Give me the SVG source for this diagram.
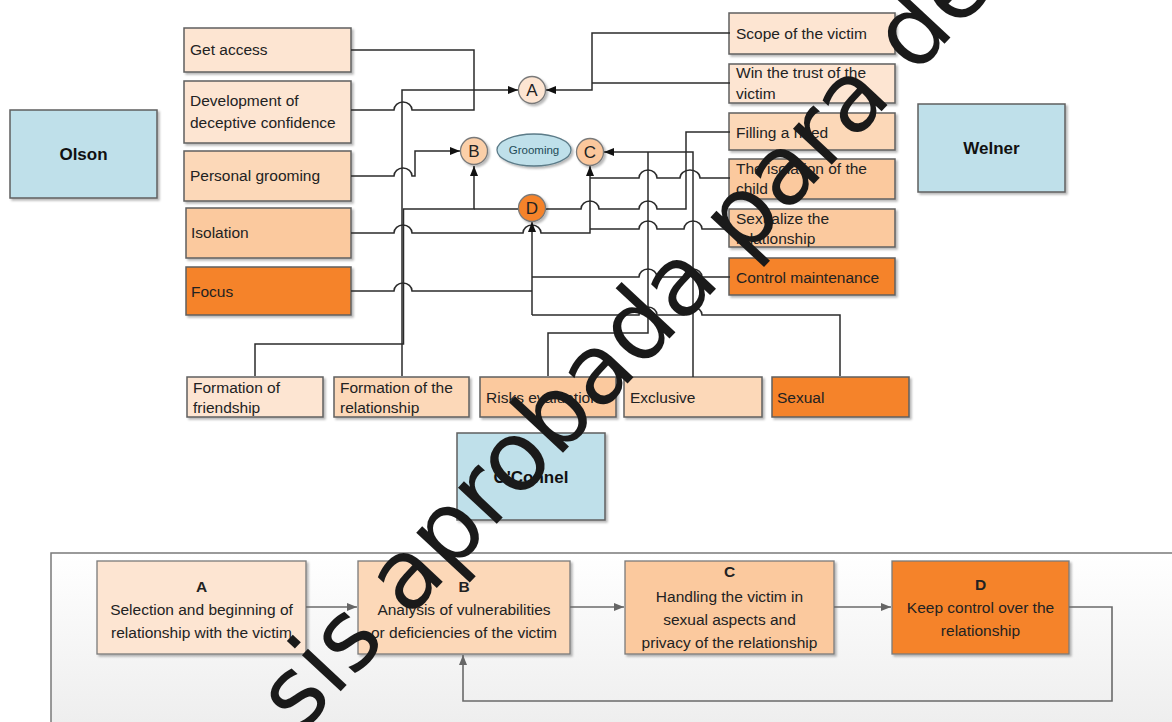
<svg xmlns="http://www.w3.org/2000/svg" width="1172" height="722" viewBox="0 0 1172 722">
  <defs>
    <filter id="shadow" x="-10%" y="-10%" width="125%" height="130%">
      <feDropShadow dx="2" dy="2" stdDeviation="1.2" flood-color="#000" flood-opacity="0.28"/>
    </filter>
    <linearGradient id="panelFill" x1="0" y1="0" x2="0" y2="1">
      <stop offset="0" stop-color="#ffffff"/>
      <stop offset="1" stop-color="#ebebeb"/>
    </linearGradient>
    <marker id="arrow" viewBox="0 0 10 8" refX="10" refY="4" markerWidth="10" markerHeight="8" markerUnits="userSpaceOnUse" orient="auto">
      <path d="M0,0 L10,4 L0,8 z" fill="#111"/>
    </marker>
    <marker id="arrowGray" viewBox="0 0 10 8" refX="10" refY="4" markerWidth="10" markerHeight="8" markerUnits="userSpaceOnUse" orient="auto">
      <path d="M0,0 L10,4 L0,8 z" fill="#666"/>
    </marker>
  </defs>
  <style>
    .box { stroke: #5f5f5f; stroke-width: 1.5; filter: url(#shadow); }
    .p1 { fill: #fde5d2; }
    .p2 { fill: #fcd8b8; }
    .p3 { fill: #fbc99e; }
    .or { fill: #f5832a; }
    .author { fill: #bfe0ea; }
    .t { font-family: "Liberation Sans", Arial, sans-serif; font-size: 15.5px; fill: #222; }
    .tc { font-family: "Liberation Sans", Arial, sans-serif; font-size: 15.5px; fill: #222; text-anchor: middle; }
    .tb { font-weight: bold; }
    .name { font-family: "Liberation Sans", Arial, sans-serif; font-size: 17px; font-weight: bold; fill: #111; text-anchor: middle; }
    .stage { stroke: #7a7a7a; stroke-width: 1.3; filter: url(#shadow); }
    .letter { font-family: "Liberation Sans", Arial, sans-serif; font-size: 17px; fill: #222; text-anchor: middle; }
    .wire { fill: none; stroke: #2b2b2b; stroke-width: 1.5; }
    .flow { fill: none; stroke: #6a6a6a; stroke-width: 1.6; }
    .mark { font-family: "DejaVu Sans", sans-serif; font-size: 97px; fill: #1a1a1a; }
  </style>

  <rect width="1172" height="722" fill="#ffffff"/>

  <!-- authors -->
  <g id="olson"><rect class="box author" x="10" y="110" width="147" height="88"/><text class="name" x="83.5" y="160">Olson</text></g>
  <g id="welner"><rect class="box author" x="918" y="104" width="147" height="88"/><text class="name" x="991.5" y="154">Welner</text></g>
  <g id="oconnel"><rect class="box author" x="457" y="433" width="148" height="87"/><text class="name" x="531" y="483">O'Connel</text></g>

  <!-- Olson stages -->
  <g id="get-access"><rect class="box p1" x="184" y="28" width="167" height="44"/><text class="t" x="190" y="55">Get access</text></g>
  <g id="deceptive-confidence"><rect class="box p1" x="184" y="81" width="167" height="62"/><text class="t" x="190" y="106">Development of</text><text class="t" x="190" y="128">deceptive confidence</text></g>
  <g id="personal-grooming"><rect class="box p2" x="184" y="151" width="167" height="50"/><text class="t" x="190" y="181">Personal grooming</text></g>
  <g id="isolation"><rect class="box p3" x="186" y="208" width="165" height="50"/><text class="t" x="191" y="238">Isolation</text></g>
  <g id="focus"><rect class="box or" x="186" y="267" width="165" height="48"/><text class="t" x="191" y="297">Focus</text></g>

  <!-- Welner stages -->
  <g id="scope"><rect class="box p1" x="729" y="13" width="166" height="41"/><text class="t" x="736" y="39">Scope of the victim</text></g>
  <g id="win-trust"><rect class="box p1" x="729" y="64" width="166" height="39"/><text class="t" x="736" y="78">Win the trust of the</text><text class="t" x="736" y="99">victim</text></g>
  <g id="filling-need"><rect class="box p2" x="729" y="113" width="166" height="37"/><text class="t" x="736" y="138">Filling a need</text></g>
  <g id="isolation-child"><rect class="box p3" x="729" y="159" width="166" height="40"/><text class="t" x="736" y="174">The isolation of the</text><text class="t" x="736" y="194">child</text></g>
  <g id="sexualize"><rect class="box p3" x="729" y="209" width="166" height="38"/><text class="t" x="736" y="224">Sexualize the</text><text class="t" x="736" y="244">relationship</text></g>
  <g id="control-maintenance"><rect class="box or" x="729" y="258" width="166" height="37"/><text class="t" x="736" y="283">Control maintenance</text></g>

  <!-- O'Connel stages -->
  <g id="friendship"><rect class="box p1" x="187" y="377" width="136" height="40"/><text class="t" x="193" y="393">Formation of</text><text class="t" x="193" y="413">friendship</text></g>
  <g id="relationship"><rect class="box p2" x="334" y="377" width="135" height="40"/><text class="t" x="340" y="393">Formation of the</text><text class="t" x="340" y="413">relationship</text></g>
  <g id="risks"><rect class="box p3" x="480" y="377" width="136" height="40"/><text class="t" x="486" y="403">Risks evaluation</text></g>
  <g id="exclusive"><rect class="box p2" x="624" y="377" width="138" height="40"/><text class="t" x="630" y="403">Exclusive</text></g>
  <g id="sexual"><rect class="box or" x="772" y="377" width="137" height="40"/><text class="t" x="777" y="403">Sexual</text></g>

  <!-- connectors between stages and phases -->
  <g id="connectors">
    <path class="wire" d="M351,110 H394 A9,8 0 0 1 412,110 H474 V50 H351"/>
    <path class="wire" d="M402,376 V90 H518" marker-end="url(#arrow)"/>
    <path class="wire" d="M730,33 H592 V90 H546" marker-end="url(#arrow)"/>
    <path class="wire" d="M730,83 H592"/>
    <path class="wire" d="M351,176 H394 A9,8 0 0 1 412,176 H415 V151 H460" marker-end="url(#arrow)"/>
    <path class="wire" d="M255,376 V344 H403.5 V209 H474 V166" marker-end="url(#arrow)"/>
    <path class="wire" d="M474,209 H519"/>
    <path class="wire" d="M351,233 H394 A9,8 0 0 1 412,233 H523 A9,8 0 0 1 541,233 H590 V166" marker-end="url(#arrow)"/>
    <path class="wire" d="M351,291 H394 A9,8 0 0 1 412,291 H532"/>
    <path class="wire" d="M532,315 V222" marker-end="url(#arrow)"/>
    <path class="wire" d="M532,277 H639 A9,8 0 0 1 657,277 H684 A9,8 0 0 1 702,277 H730"/>
    <path class="wire" d="M532,315 H639 A9,8 0 0 1 657,315 H684 A9,8 0 0 1 702,315 H840 V376"/>
    <path class="wire" d="M548,376 V333 H648 V152"/>
    <path class="wire" d="M693,377 V152 H604" marker-end="url(#arrow)"/>
    <path class="wire" d="M546,209 H581 A9,8 0 0 1 599,209 H639 A9,8 0 0 1 657,209 H686 V132 H730"/>
    <path class="wire" d="M590,178 H639 A9,8 0 0 1 657,178 H680 A10,8 0 0 1 700,178 H730"/>
    <path class="wire" d="M590,229 H639 A9,8 0 0 1 657,229 H684 A9,8 0 0 1 702,229 H730"/>
  </g>

  <!-- phases -->
  <g id="phase-a"><circle cx="532" cy="90" r="13.5" fill="#fde5d2" stroke="#7a7a7a" stroke-width="1.3" filter="url(#shadow)"/><text class="letter" x="532" y="96">A</text></g>
  <g id="phase-b"><circle cx="474" cy="151" r="13.5" fill="#fbcfa8" stroke="#7a7a7a" stroke-width="1.3" filter="url(#shadow)"/><text class="letter" x="474" y="157">B</text></g>
  <g id="grooming"><ellipse cx="534" cy="150" rx="37" ry="16" fill="#bfe0ea" stroke="#5b7b88" stroke-width="1.3" filter="url(#shadow)"/><text x="534" y="154" font-family="Liberation Sans, Arial, sans-serif" font-size="11.5" fill="#1e4b58" text-anchor="middle">Grooming</text></g>
  <g id="phase-c"><circle cx="590" cy="152" r="13.5" fill="#fbc79c" stroke="#7a7a7a" stroke-width="1.3" filter="url(#shadow)"/><text class="letter" x="590" y="158">C</text></g>
  <g id="phase-d"><circle cx="532" cy="208" r="13.5" fill="#f5832a" stroke="#7a7a7a" stroke-width="1.3" filter="url(#shadow)"/><text class="letter" x="532" y="214">D</text></g>

  <!-- process panel -->
  <g id="process-panel">
    <rect x="51" y="553" width="1140" height="200" fill="url(#panelFill)" stroke="#7a7a7a" stroke-width="1.5"/>
  </g>
  <g id="stage-a"><rect class="stage p1" x="97" y="561" width="209" height="93"/>
    <text class="tc tb" x="201.5" y="592">A</text><text class="tc" x="201.5" y="615">Selection and beginning of</text><text class="tc" x="201.5" y="638">relationship with the victim</text></g>
  <g id="stage-b"><rect class="stage p2" x="358" y="561" width="212" height="93"/>
    <text class="tc tb" x="464" y="592">B</text><text class="tc" x="464" y="615">Analysis of vulnerabilities</text><text class="tc" x="464" y="638">or deficiencies of the victim</text></g>
  <g id="stage-c"><rect class="stage p3" x="625" y="561" width="209" height="93"/>
    <text class="tc tb" x="729.5" y="577">C</text><text class="tc" x="729.5" y="602">Handling the victim in</text><text class="tc" x="729.5" y="625">sexual aspects and</text><text class="tc" x="729.5" y="648">privacy of the relationship</text></g>
  <g id="stage-d"><rect class="stage or" x="892" y="561" width="177" height="93"/>
    <text class="tc tb" x="980.5" y="590">D</text><text class="tc" x="980.5" y="613">Keep control over the</text><text class="tc" x="980.5" y="636">relationship</text></g>
  <g id="process-connectors">
    <path class="flow" d="M306,607 H357" marker-end="url(#arrowGray)"/>
    <path class="flow" d="M570,607 H624" marker-end="url(#arrowGray)"/>
    <path class="flow" d="M834,607 H891" marker-end="url(#arrowGray)"/>
    <path class="flow" d="M1069,607 H1112 V701 H463 V655" marker-end="url(#arrowGray)"/>
  </g>

  <!-- stamp across the sheet -->
  <text class="mark" transform="translate(300,735) rotate(-47)">sis aprobada para de</text>
</svg>
